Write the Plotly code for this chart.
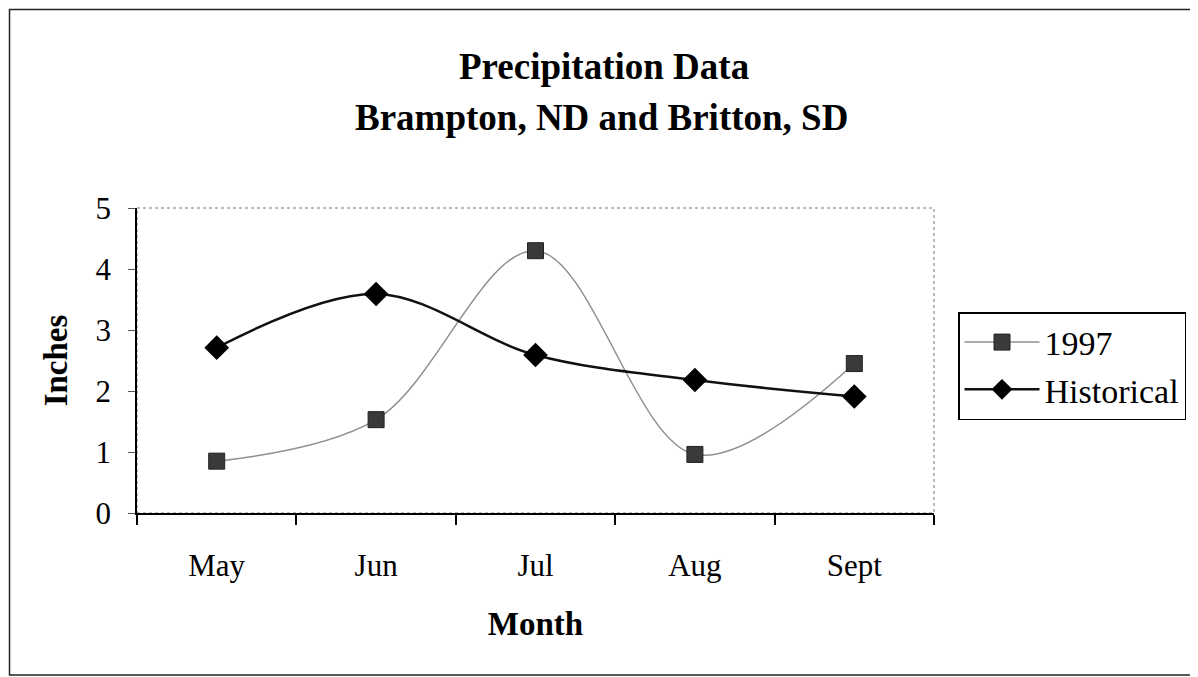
import plotly.graph_objects as go

months = ["May", "Jun", "Jul", "Aug", "Sept"]
y1997 = [0.85, 1.53, 4.30, 0.96, 2.45]
historical = [2.71, 3.59, 2.59, 2.18, 1.91]
yticks = [0, 1, 2, 3, 4, 5]

FONT = "Liberation Serif"

# page body has an 8px margin; figure laid out in page coords minus 8
W, H = 1190, 669
L, T, PW, PH = 129, 200, 797, 305
R = W - L - PW
B = H - T - PH


def px(x):
    return (x - 8 - L) / PW


def py(y):
    return (T + PH - (y - 8)) / PH


fig = go.Figure()
fig.add_trace(go.Scatter(
    x=months, y=y1997, name="1997", mode="lines+markers",
    line=dict(color="#8f8f8f", width=1.5, shape="spline", smoothing=1.0),
    marker=dict(symbol="square", size=16, color="#3a3a3a", line=dict(color="#222", width=1)),
))
fig.add_trace(go.Scatter(
    x=months, y=historical, name="Historical", mode="lines+markers",
    line=dict(color="#111111", width=2.5, shape="spline", smoothing=1.0),
    marker=dict(symbol="diamond", size=19, color="#000000"),
))

fig.update_layout(
    width=W, height=H,
    paper_bgcolor="white", plot_bgcolor="white",
    margin=dict(l=L, r=R, t=T, b=B, autoexpand=False),
    font=dict(family=FONT, color="black", size=31),
    showlegend=True,
    legend=dict(
        xref="container", yref="container",
        x=(958 - 8) / W, y=1 - (312 - 8) / H, xanchor="left", yanchor="top",
        bordercolor="black", borderwidth=1.5,
        font=dict(family=FONT, size=34),
        itemwidth=75,
    ),
    xaxis=dict(
        type="category", range=[-0.5, 4.5],
        showline=True, linecolor="black", linewidth=1.5,
        ticks="outside", tickson="boundaries", ticklen=10, tickcolor="black", tickwidth=1.5,
        showgrid=False, zeroline=False, automargin=False,
        tickfont=dict(family=FONT, size=31),
        ticklabelstandoff=24,
        title=dict(text="<b>Month</b>", font=dict(family=FONT, size=33), standoff=30),
    ),
    yaxis=dict(
        range=[0, 5], tickvals=yticks,
        showline=True, linecolor="black", linewidth=1.5,
        ticks="outside", ticklen=7, tickcolor="#555", tickwidth=1,
        showgrid=False, zeroline=False, automargin=False,
        tickfont=dict(family=FONT, size=31),
        ticklabelstandoff=11,
        title=dict(text="<b>Inches</b>", font=dict(family=FONT, size=33), standoff=18),
    ),
    shapes=[
        dict(type="rect", xref="paper", yref="paper", x0=0, x1=1, y0=0, y1=1,
             line=dict(color="#777", width=1, dash="dot"), layer="below"),
        dict(type="rect", xref="paper", yref="paper",
             x0=px(9.5), x1=px(1196), y0=py(675), y1=py(9.5),
             line=dict(color="#222", width=1.5)),
    ],
    annotations=[
        dict(text="<b>Precipitation Data</b>", xref="paper", yref="paper",
             x=px(604), y=py(66), xanchor="center", yanchor="middle",
             showarrow=False, font=dict(family=FONT, size=37)),
        dict(text="<b>Brampton, ND and Britton, SD</b>", xref="paper", yref="paper",
             x=px(601), y=py(118), xanchor="center", yanchor="middle",
             showarrow=False, font=dict(family=FONT, size=37)),
    ],
)

fig.write_html("out.html")
